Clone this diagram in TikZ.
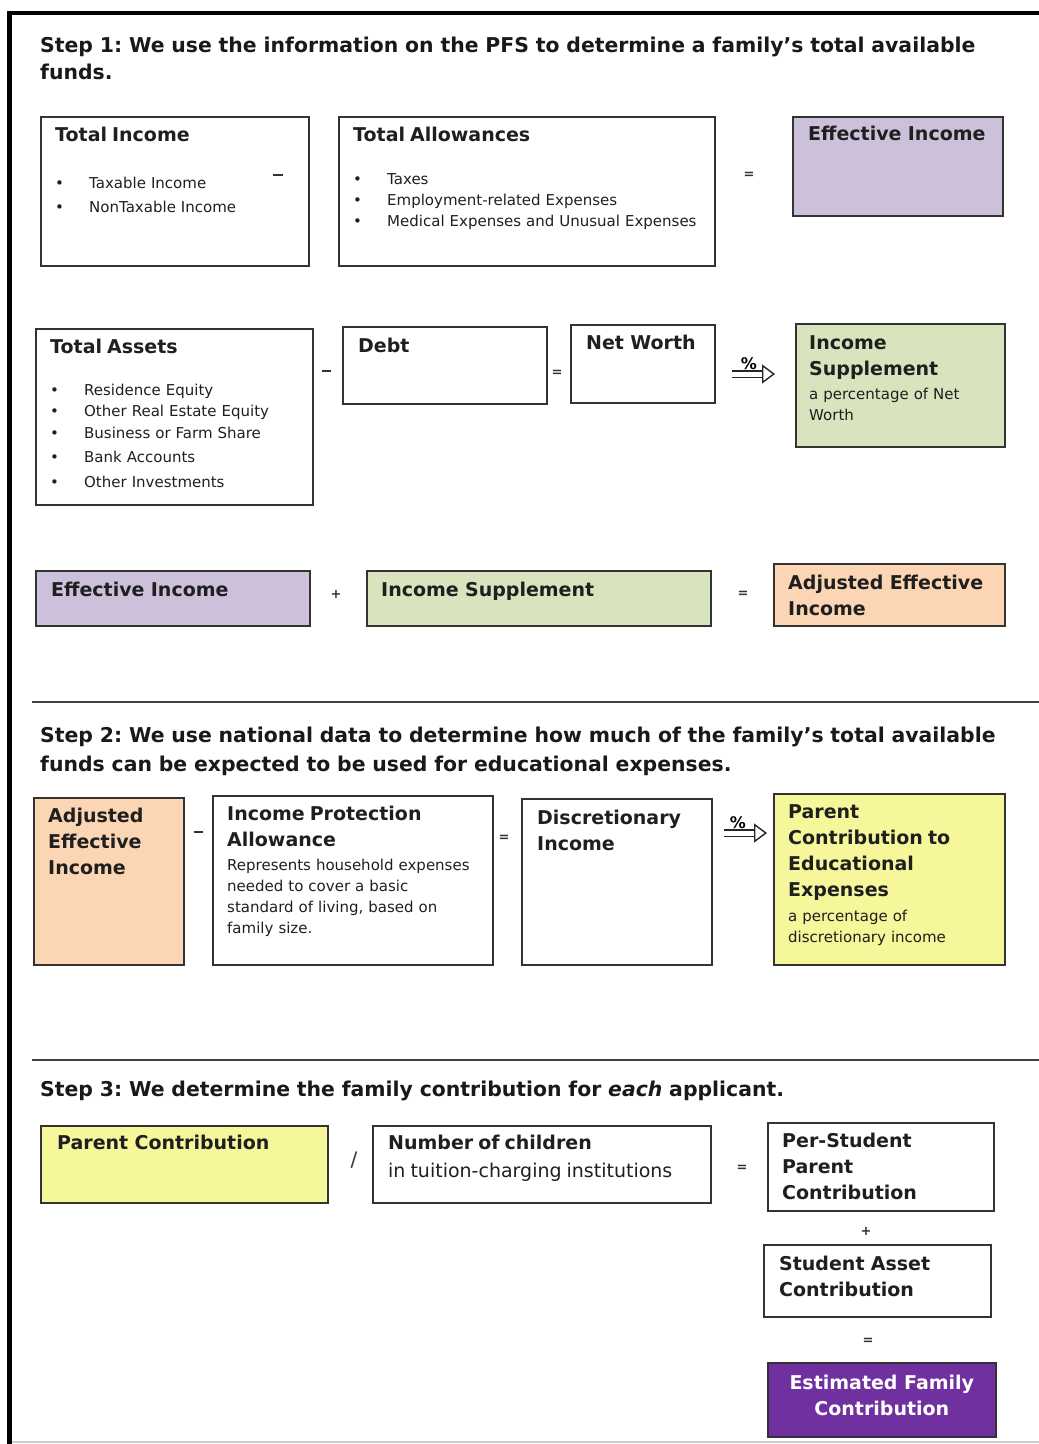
\documentclass[tikz,border=0pt]{standalone}
\usepackage{fontspec}
\setmainfont{DejaVu Sans}
\usepackage{xcolor}
\usetikzlibrary{arrows.meta, positioning}

\definecolor{effcolor}{HTML}{CCC0DA}
\definecolor{supcolor}{HTML}{D7E4BD}
\definecolor{adjcolor}{HTML}{FCD5B5}
\definecolor{parcolor}{HTML}{F6F69A}
\definecolor{efccolor}{HTML}{7030A0}
\definecolor{edgecolor}{HTML}{333333}

\newcommand{\stepfont}{\fontsize{20.4}{26}\selectfont\bfseries}
\newcommand{\titlefont}{\fontsize{19}{26}\selectfont\bfseries}
\newcommand{\bodyfont}{\fontsize{15}{21}\selectfont}
\newcommand{\itm}{\makebox[34pt][l]{\textbullet}}
\frenchspacing

\begin{document}
\begin{tikzpicture}[
        x=1pt, y=-1pt,
        panel/.style={draw=edgecolor, line width=1.6pt, anchor=north west, inner sep=0pt},
        caption/.style={anchor=north west, align=left, inner sep=0pt, text=black!88, font=\bodyfont},
        headcap/.style={caption, font=\titlefont},
        steptext/.style={anchor=north west, align=left, inner sep=0pt, text width=990pt, text=black!90, font=\stepfont},
        op/.style={inner sep=0pt, text=black!80, font=\fontsize{13}{13}\selectfont\bfseries},
        minussign/.style={op},
        pct/.style={double=white, double distance=5pt, line width=1.4pt, draw=black!85, -{Triangle[open, length=13pt, width=19pt]}},
        pctlabel/.style={inner sep=1pt, font=\fontsize{16}{16}\selectfont\bfseries},
        rule/.style={line width=1.8pt, draw=black!75}
        ]
        \useasboundingbox (0,0) rectangle (1039,1444);
        % Frame
        \draw[line width=4.5pt] (1039,13) -- (9.5,13) -- (9.5,1444);
        \draw[black!20, line width=1.5pt] (12,1442) -- (1039,1442);

        % Step 1
        \node[steptext] (s1) at (40,37) {Step 1: We use the information on the PFS to determine a family’s total available\\[1pt]funds.};

        \node[panel, minimum width=268pt, minimum height=149pt] (ti) at (40,116) {};
        \node[caption, text width=245pt, below right=11pt and 15pt of ti.north west] (ti-t) {{\titlefont Total Income\\[26pt]}
            \itm Taxable Income\\[3pt]\itm NonTaxable Income};
        \node[minussign] (minus1) at (278,175) {\rule{10pt}{2pt}};

        \node[panel, minimum width=376pt, minimum height=149pt] (ta) at (338,116) {};
        \node[caption, text width=350pt, below right=11pt and 15pt of ta.north west] (ta-t) {{\titlefont Total Allowances\\[22pt]}
            \itm Taxes\\\itm Employment-related Expenses\\\itm Medical Expenses and Unusual Expenses};
        \node[op] (eq1) at (749,175) {=};

        \node[panel, fill=effcolor, minimum width=210pt, minimum height=99pt] (ei) at (792,116) {};
        \node[headcap, text width=190pt, below right=10pt and 16pt of ei.north west] (ei-t) {Effective Income};

        \node[panel, minimum width=277pt, minimum height=176pt] (tas) at (35,328) {};
        \node[caption, text width=255pt, below right=11pt and 15pt of tas.north west] (tas-t) {{\titlefont Total Assets\\[21pt]}
            \itm Residence Equity\\\itm Other Real Estate Equity\\[1pt]\itm Business or Farm Share\\[3pt]\itm Bank Accounts\\[4pt]\itm Other Investments};
        \node[minussign] (minus2) at (326,371) {\rule{9pt}{2pt}};

        \node[panel, minimum width=204pt, minimum height=77pt] (debt) at (342,326) {};
        \node[headcap, text width=180pt, below right=12pt and 16pt of debt.north west] (debt-t) {Debt};
        \node[op] (eq2) at (557,373) {=};

        \node[panel, minimum width=144pt, minimum height=78pt] (nw) at (570,324) {};
        \node[headcap, text width=125pt, below right=11pt and 16pt of nw.north west] (nw-t) {Net Worth};

        \node[panel, fill=supcolor, minimum width=209pt, minimum height=123pt] (isup) at (795,323) {};
        \node[caption, text width=190pt, below right=12pt and 14pt of isup.north west] (isup-t) {{\titlefont Income\\Supplement\\[3pt]}
            a percentage of Net\\Worth};
        \draw[pct, shorten <=16pt, shorten >=20pt] ([yshift=-50pt]nw.north east) -- ([yshift=-50pt]nw.north east -| isup.west)
            node[pctlabel, pos=0.42, above=3pt] {\%};

        \node[panel, fill=effcolor, minimum width=274pt, minimum height=55pt] (ei2) at (35,570) {};
        \node[headcap, text width=250pt, below right=12pt and 16pt of ei2.north west] (ei2-t) {Effective Income};
        \node[op] (plus1) at (336,594) {+};

        \node[panel, fill=supcolor, minimum width=344pt, minimum height=55pt] (is2) at (366,570) {};
        \node[headcap, text width=320pt, below right=12pt and 15pt of is2.north west] (is2-t) {Income Supplement};
        \node[op] (eq3) at (743,594) {=};

        \node[panel, fill=adjcolor, minimum width=231pt, minimum height=62pt] (aei) at (773,563) {};
        \node[headcap, text width=215pt, below right=12pt and 15pt of aei.north west] (aei-t) {Adjusted Effective\\Income};

        \draw[rule] (32,702) -- (1039,702);

        % Step 2
        \node[steptext] (s2) at (40,727) {Step 2: We use national data to determine how much of the family’s total available\\[3pt]funds can be expected to be used for educational expenses.};

        \node[panel, fill=adjcolor, minimum width=150pt, minimum height=167pt] (aei2) at (33,797) {};
        \node[headcap, text width=130pt, below right=11pt and 15pt of aei2.north west] (aei2-t) {Adjusted\\Effective\\Income};
        \node[minussign] (minus3) at (198,832) {\rule{9pt}{2pt}};

        \node[panel, minimum width=280pt, minimum height=169pt] (ipa) at (212,795) {};
        \node[caption, text width=260pt, below right=11pt and 15pt of ipa.north west] (ipa-t) {{\titlefont Income Protection\\Allowance\\[3pt]}
            Represents household expenses\\needed to cover a basic\\standard of living, based on\\family size.};
        \node[op] (eq4) at (504,838) {=};

        \node[panel, minimum width=190pt, minimum height=166pt] (di) at (521,798) {};
        \node[headcap, text width=170pt, below right=12pt and 16pt of di.north west] (di-t) {Discretionary\\Income};

        \node[panel, fill=parcolor, minimum width=231pt, minimum height=171pt] (pc) at (773,793) {};
        \node[caption, text width=215pt, below right=11pt and 15pt of pc.north west] (pc-t) {{\titlefont Parent\\Contribution to\\Educational\\Expenses\\[4pt]}
            a percentage of\\discretionary income};
        \draw[pct, shorten <=11pt, shorten >=6pt] ([yshift=-35pt]di.north east) -- ([yshift=-35pt]di.north east -| pc.west)
            node[pctlabel, pos=0.42, above=3pt] {\%};

        \draw[rule] (32,1060) -- (1039,1060);

        % Step 3
        \node[steptext] (s3) at (40,1081) {Step 3: We determine the family contribution for \textit{each} applicant.};

        \node[panel, fill=parcolor, minimum width=287pt, minimum height=77pt] (pcon) at (40,1125) {};
        \node[headcap, text width=265pt, below right=10pt and 17pt of pcon.north west] (pcon-t) {Parent Contribution};
        \node[op, font=\fontsize{20}{20}\selectfont] (div) at (354,1160) {/};

        \node[panel, minimum width=338pt, minimum height=77pt] (nch) at (372,1125) {};
        \node[caption, text width=320pt, below right=10pt and 16pt of nch.north west] (nch-t) {{\titlefont Number of children\\[7pt]}
            {\fontsize{19}{26}\selectfont in tuition-charging institutions}};
        \node[op] (eq5) at (742,1168) {=};

        \node[panel, minimum width=226pt, minimum height=88pt] (psp) at (767,1122) {};
        \node[headcap, text width=205pt, below right=11pt and 15pt of psp.north west] (psp-t) {Per-Student\\Parent\\Contribution};
        \node[op] (plus2) at (866,1231) {+};

        \node[panel, minimum width=227pt, minimum height=72pt] (sac) at (763,1244) {};
        \node[headcap, text width=205pt, below right=12pt and 16pt of sac.north west] (sac-t) {Student Asset\\Contribution};
        \node[op] (eq6) at (868,1341) {=};

        \node[panel, fill=efccolor, minimum width=228pt, minimum height=74pt] (efc) at (767,1362) {};
        \node[align=center, inner sep=0pt, text=white, font=\titlefont] (efc-t) at ([yshift=4pt]efc.center) {Estimated Family\\Contribution};
\end{tikzpicture}
\end{document}
